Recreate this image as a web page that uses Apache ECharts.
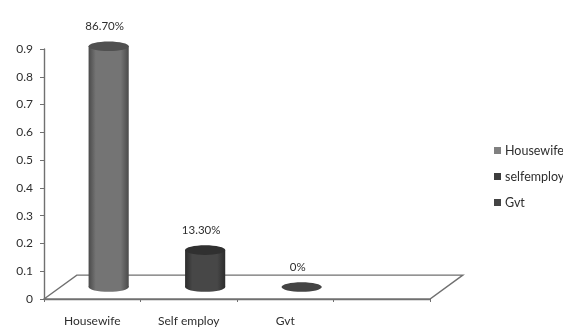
<!DOCTYPE html>
<html>
<head>
<meta charset="utf-8">
<style>
  html, body { margin: 0; padding: 0; background: #fff; }
  #chart { width: 563px; height: 327px; }
</style>
<script src="https://cdn.jsdelivr.net/npm/echarts@6/dist/echarts.min.js"></script>
</head>
<body>
<div id="chart"></div>
<script>
// Occupation shares, plotted as 3D-style cylinders on a slanted floor
const categories = ['Housewife', 'Self employ', 'Gvt', ''];
const seriesNames = ['Housewife', 'selfemploy', 'Gvt'];
const shareValues = [0.867, 0.133, 0];
const shareLabels = ['86.70%', '13.30%', '0%'];
const yTicks = [0, 0.9, 0.1];

const fontFamily = 'Lato, "Open Sans", sans-serif';
const textColor = '#2e2e2e';
const axisColor = '#707070';

// Floor depth in axis units: sideways in category bands, upward in value units
const depthBands = 0.34;
const depthValue = 0.086;

const cylinderStyles = [
  { legend: '#808080', edge: '#4a4a4a', mid: '#747474', top: '#505050' },
  { legend: '#3d3d3d', edge: '#2c2c2c', mid: '#474747', top: '#303030' },
  { legend: '#444444', edge: '#3f3f3f', mid: '#4a4a4a', top: '#444444' }
];

function renderFloor(params, api) {
  const a = api.coord([0, 0]);
  const band = api.size([1, 0])[0];
  const rise = api.size([0, depthValue])[1];
  const x0 = a[0] - band / 2;
  const width = band * categories.length;
  const dx = band * depthBands;
  return {
    type: 'polygon',
    shape: { points: [[x0, a[1]], [x0 + dx, a[1] - rise], [x0 + width + dx, a[1] - rise], [x0 + width, a[1]]] },
    style: { fill: '#fff', stroke: axisColor, lineWidth: 1.4 }
  };
}

function renderCylinder(styleIndex, text) {
  return function (params, api) {
    const category = api.value(0);
    const value = api.value(1);
    const band = api.size([1, 0])[0];
    const rise = api.size([0, depthValue])[1];
    const base = api.coord([category, 0]);
    const top = api.coord([category, value]);
    const cx = base[0] + band * depthBands / 2;
    const baseY = base[1] - rise / 2;
    const topY = top[1] - rise / 2;
    const rx = band * 0.208;
    const ry = rx * 0.24;
    const s = cylinderStyles[styleIndex];
    const body = {
      type: 'linear', x: 0, y: 0, x2: 1, y2: 0,
      colorStops: [
        { offset: 0, color: s.edge },
        { offset: 0.18, color: s.mid },
        { offset: 0.8, color: s.mid },
        { offset: 1, color: s.edge }
      ]
    };
    const children = [];
    if (value > 0) {
      children.push(
        { type: 'ellipse', shape: { cx, cy: baseY, rx, ry }, style: { fill: body } },
        { type: 'rect', shape: { x: cx - rx, y: topY, width: rx * 2, height: baseY - topY }, style: { fill: body } }
      );
    }
    children.push(
      { type: 'ellipse', shape: { cx, cy: topY, rx, ry }, style: { fill: s.top } },
      {
        type: 'text',
        style: {
          x: cx - 4, y: topY - 20, text,
          fill: textColor, font: '11.5px ' + fontFamily,
          align: 'center', verticalAlign: 'middle'
        }
      }
    );
    return { type: 'group', children };
  };
}

const cylinderSeries = seriesNames.map((name, i) => ({
  name,
  type: 'custom',
  coordinateSystem: 'cartesian2d',
  z: 3,
  clip: false,
  itemStyle: { color: cylinderStyles[i].legend },
  encode: { x: 0, y: 1 },
  data: [[i, shareValues[i]]],
  renderItem: renderCylinder(i, shareLabels[i])
}));

const chart = echarts.init(document.getElementById('chart'), null, { renderer: 'canvas' });
chart.setOption({
  animation: false,
  backgroundColor: '#fff',
  grid: { left: 44, top: 49, width: 386, height: 251, containLabel: false },
  legend: {
    data: seriesNames,
    orient: 'vertical',
    left: 494,
    top: 144,
    padding: 0,
    icon: 'rect',
    itemWidth: 7,
    itemHeight: 7,
    itemGap: 13,
    textStyle: { color: textColor, fontSize: 12.5, fontFamily, padding: [0, 0, 0, -1] }
  },
  xAxis: {
    type: 'category',
    data: categories,
    boundaryGap: true,
    axisLine: { lineStyle: { color: axisColor, width: 1.4 } },
    axisTick: { show: true, alignWithLabel: false, length: 3, lineStyle: { color: axisColor } },
    axisLabel: { color: textColor, fontSize: 12, fontFamily, margin: 16, interval: 0 },
    splitLine: { show: false }
  },
  yAxis: {
    type: 'value',
    min: yTicks[0],
    max: yTicks[1],
    interval: yTicks[2],
    axisLine: { show: true, lineStyle: { color: axisColor, width: 1.4 } },
    axisTick: { show: true, length: 4, lineStyle: { color: axisColor } },
    axisLabel: { color: textColor, fontSize: 12, fontFamily, margin: 11 },
    splitLine: { show: false }
  },
  series: [
    {
      name: 'floor',
      type: 'custom',
      coordinateSystem: 'cartesian2d',
      z: 1,
      clip: false,
      silent: true,
      encode: { x: 0, y: 1 },
      data: [[0, 0]],
      renderItem: renderFloor
    },
    ...cylinderSeries
  ]
});
</script>
</body>
</html>
